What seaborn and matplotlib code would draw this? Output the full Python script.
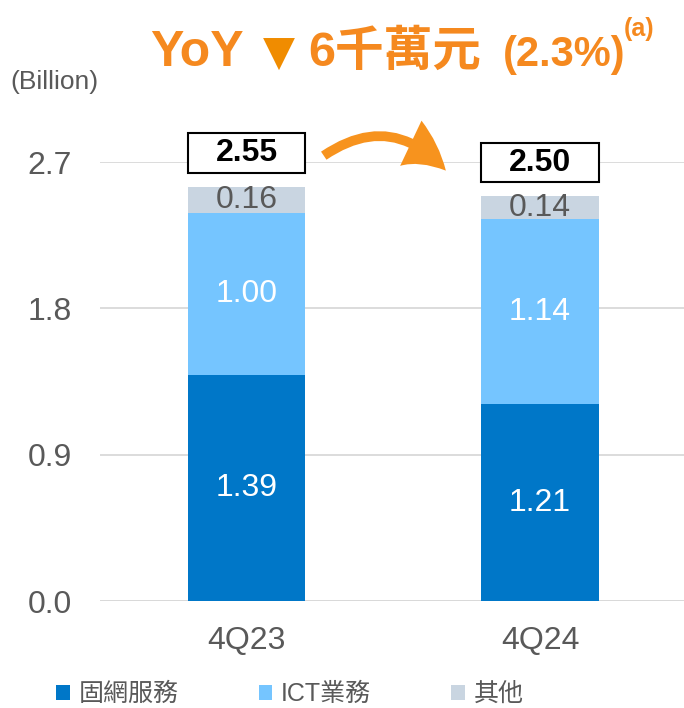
import matplotlib
matplotlib.use("Agg")
import matplotlib.pyplot as plt
from matplotlib.patches import Patch, Rectangle, FancyArrowPatch
import seaborn as sns
import pandas as pd

# data
quarters = ["4Q23", "4Q24"]
fixed = [1.39, 1.21]      # 固網服務
ict = [1.00, 1.14]        # ICT業務
other = [0.16, 0.14]      # 其他
total_labels = ["2.55", "2.50"]
series_names = ["固網服務", "ICT業務", "其他"]
yticks = [0.0, 0.9, 1.8, 2.7]

c_fixed = "#0077C8"
c_ict = "#75C5FF"
c_other = "#C9D5E1"
grey = "#595959"

sns.set_theme(style="white")
plt.rcParams["font.family"] = ["Liberation Sans", "Noto Sans CJK TC", "DejaVu Sans"]

df = pd.DataFrame({"quarter": quarters, "fixed": fixed, "ict": ict, "other": other})
df["lvl2"] = df["fixed"] + df["ict"]
df["lvl3"] = df["lvl2"] + df["other"]

fig = plt.figure(figsize=(6.84, 7.08), dpi=100)
ax = fig.add_axes([0.146, 0.151, 0.854, 0.620])

for col, c in [("lvl3", c_other), ("lvl2", c_ict), ("fixed", c_fixed)]:
    sns.barplot(data=df, x="quarter", y=col, color=c, width=0.4, ax=ax,
                saturation=1, linewidth=0, zorder=3)

ax.set_ylim(0, 2.7)
ax.set_xlim(-0.5, 1.49)
ax.set_yticks(yticks)
ax.set_yticklabels([f"{v:.1f}" for v in yticks])
ax.yaxis.grid(True, color="#D9D9D9", linewidth=1.3, zorder=0)
ax.set_axisbelow(True)
for s in ax.spines.values():
    s.set_visible(False)
ax.axhline(0, color="#D9D9D9", linewidth=1.3, zorder=1)
ax.tick_params(axis="y", length=0, pad=20, labelsize=23, labelcolor=grey)
ax.tick_params(axis="x", length=0, pad=18, labelsize=23, labelcolor=grey)
ax.set_xlabel("")
ax.set_ylabel("")

# segment labels
for i in range(len(quarters)):
    f, t, o = fixed[i], ict[i], other[i]
    ax.text(i, f / 2, f"{f:.2f}", ha="center", va="center", color="white", fontsize=23, zorder=5)
    ax.text(i, f + t / 2, f"{t:.2f}", ha="center", va="center", color="white", fontsize=23, zorder=5)
    ax.text(i, f + t + o / 2, f"{o:.2f}", ha="center", va="center", color=grey, fontsize=23, zorder=5)
    top = f + t + o
    ax.add_patch(Rectangle((i - 0.2, top + 0.085), 0.4, 0.245, facecolor="white",
                           edgecolor="black", linewidth=1.5, clip_on=False, zorder=6))
    ax.text(i, top + 0.085 + 0.1225, total_labels[i], ha="center", va="center",
            fontsize=23, fontweight="bold", color="black", zorder=7, clip_on=False)

# curved arrow between boxes
arrow = FancyArrowPatch((0.255, 2.73), (0.685, 2.635), connectionstyle="arc3,rad=-0.45",
                        arrowstyle="simple,head_width=1.8,head_length=1.6,tail_width=0.35",
                        mutation_scale=20, color="#F7931E", linewidth=0, clip_on=False, zorder=6)
ax.add_patch(arrow)

# unit label
fig.text(10 / 684, 1 - 82 / 708, "(Billion)", ha="left", va="center", fontsize=19, color=grey)

# title
orange = "#F5891F"
base = 1 - 66 / 708
fig.text(150 / 684, base, "YoY", ha="left", va="baseline", fontsize=36, fontweight="bold", color=orange)
fig.text(263 / 684, base, "▼", ha="left", va="baseline", fontsize=30, color="#F08C00",
         family=["DejaVu Sans"])
fig.text(308 / 684, base, "6千萬元", ha="left", va="baseline", fontsize=35, fontweight="bold", color=orange)
fig.text(503 / 684, base, "(2.3%)", ha="left", va="baseline", fontsize=30, fontweight="bold", color=orange)
fig.text(624 / 684, 1 - 36 / 708, "(a)", ha="left", va="baseline", fontsize=18, fontweight="bold", color=orange)

# legend
handles = [Patch(facecolor=c, edgecolor="none") for c in (c_fixed, c_ict, c_other)]
fig.legend(handles, series_names, loc="center left", bbox_to_anchor=(56 / 684, 1 - 694 / 708), ncol=3,
           frameon=False, fontsize=18, labelcolor=grey, handlelength=0.55, handleheight=0.55,
           handletextpad=0.35, columnspacing=3.2, borderaxespad=0, borderpad=0)

fig.savefig("out.png", dpi=100)
